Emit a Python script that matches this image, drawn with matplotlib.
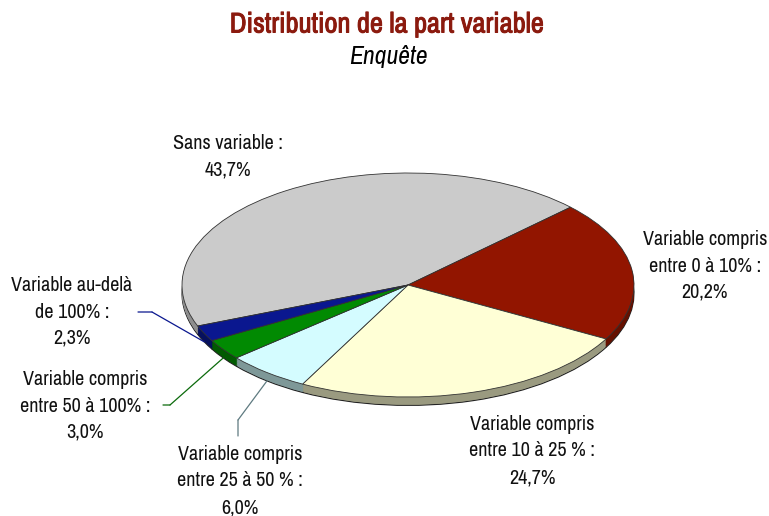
import numpy as np
import matplotlib.pyplot as plt
import matplotlib.patheffects as pe

# data
labels = ['Sans variable :', 'Variable compris\nentre 0 à 10% :', 'Variable compris\nentre 10 à 25 % :',
          'Variable compris\nentre 25 à 50 % :', 'Variable compris\nentre 50 à 100% :', 'Variable au-delà\nde 100% :']
values = [43.7, 20.2, 24.7, 6.0, 3.0, 2.3]
pct_text = ['43,7%', '20,2%', '24,7%', '6,0%', '3,0%', '2,3%']
top_colors = ['#CBCBCB', '#921500', '#FFFFD6', '#D4FCFF', '#018A02', '#0A178F']
side_colors = ['#8E8E8E', '#651000', '#9A9A80', '#7E9898', '#015A01', '#06105E']
leader_colors = [None, None, None, '#5E7A80', '#0B6A0B', '#0A178F']

W, H = 769, 516
fig = plt.figure(figsize=(W / 100, H / 100), dpi=100)
fam = ['Archivo Narrow', 'Liberation Sans', 'DejaVu Sans']

# pie axes: ellipse centre (408,285), semi axes 226 x 112 px
cx, cy, a, b = 408, 285, 226, 112
depth = 0.075
ylo = -1.12
ax = fig.add_axes([(cx - a) / W, 1 - (cy + b * (-ylo)) / H, 2 * a / W, (1 - ylo) * b / H])

start = 44 + 360 * values[0] / sum(values)
n = 12
for k in range(n, 0, -1):
    off = -depth * k / n
    w, _ = ax.pie(values, colors=side_colors, startangle=start, counterclock=False,
                  center=(0, off), frame=False,
                  wedgeprops=dict(linewidth=0.8 if k == n else 0,
                                  edgecolor='#222222' if k == n else 'none'))
wedges, _ = ax.pie(values, colors=top_colors, startangle=start, counterclock=False,
                   frame=False, wedgeprops=dict(linewidth=0.6, edgecolor='#333333'))
ax.set_aspect('auto')
ax.set_xlim(-1, 1)
ax.set_ylim(ylo, 1)
ax.axis('off')


def fpx(x, y):
    return x / W, 1 - y / H


fig.text(*fpx(387, 25), 'Distribution de la part variable', ha='center', va='center',
         fontsize=20.5, color='#8B1A0E', family=fam,
         path_effects=[pe.withStroke(linewidth=0.7, foreground='#8B1A0E')])
fig.text(*fpx(388, 56), 'Enquête', ha='center', va='center',
         fontsize=18.5, style='italic', color='black', family=fam)

# label centres (px)
label_pos = [(228, 157), (705, 266), (532, 451), (240, 481), (85, 406), (72, 312)]
for lab, p, pos in zip(labels, pct_text, label_pos):
    fig.text(*fpx(*pos), lab + '\n' + p, ha='center', va='center', fontsize=14.5,
             linespacing=1.5, color='#111111', family=fam)

# leader lines for the small slices
knees = {3: [(238, 436), (238, 420)], 4: [(163, 405), (170, 405)], 5: [(138, 312), (152, 312)]}
for i, pts in knees.items():
    wd = wedges[i]
    mid = np.deg2rad((wd.theta1 + wd.theta2) / 2)
    ex, ey = np.cos(mid), np.sin(mid) - depth
    col = leader_colors[i]
    (x0, y0), (x1, y1) = pts
    ax.annotate('', xy=(ex, ey), xycoords='data', xytext=(x1, H - y1), textcoords='figure pixels',
                arrowprops=dict(arrowstyle='-', color=col, lw=0.9, shrinkA=0, shrinkB=0))
    ax.annotate('', xy=(x1, H - y1), xycoords='figure pixels', xytext=(x0, H - y0),
                textcoords='figure pixels',
                arrowprops=dict(arrowstyle='-', color=col, lw=0.9, shrinkA=0, shrinkB=0))

fig.savefig('out.png', dpi=100)
